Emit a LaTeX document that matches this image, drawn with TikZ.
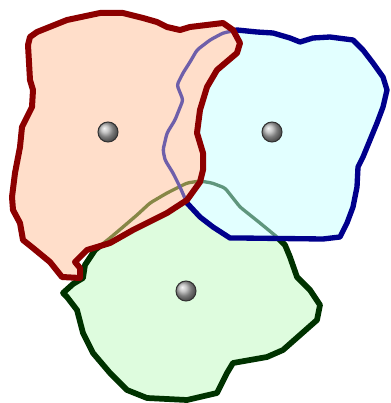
\documentclass[tikz,border=0pt]{standalone}
\begin{document}
\begin{tikzpicture}[x=0.75pt,y=-0.75pt,
  line join=round,
  redfill/.style={fill={rgb,255:red,255;green,222;blue,202}},
  bluefill/.style={fill={rgb,255:red,226;green,255;blue,255}},
  greenfill/.style={fill={rgb,255:red,222;green,252;blue,222}},
  redline/.style={draw={rgb,255:red,140;green,0;blue,0},line width=4.5pt},
  blueline/.style={draw={rgb,255:red,0;green,0;blue,140},line width=4pt},
  greenline/.style={draw={rgb,255:red,0;green,50;blue,0},line width=4.3pt},
  hidden/.style={line width=2.5pt,rounded corners=2},
  ball/.style={circle,minimum size=15pt,inner sep=0pt,ball color=gray!60!white,draw=black!80,line width=0.8pt}
]
\useasboundingbox (0,0) rectangle (390,403);
\def\redpath{(30,80) -- (28,45) -- (30,37) -- (37,32) -- (67,20) -- (100,13) -- (123,13) -- (143,18) -- (157,22) -- (167,27) -- (180,30) -- (190,27) -- (223,23) -- (233,30) -- (240,43) -- (237,53) -- (217,70) -- (207,87) -- (200,110) -- (197,133) -- (203,153) -- (203,170) -- (200,182) -- (187,200) -- (167,213) -- (133,230) -- (110,243) -- (97,247) -- (87,250) -- (75,262) -- (80,268) -- (80,278) -- (62,277) -- (50,262) -- (33,248) -- (23,240) -- (20,223) -- (13,210) -- (12,197) -- (15,173) -- (20,147) -- (22,127) -- (32,107) -- (33,90) -- cycle}
\def\bluepath{(237,30) -- (257,32) -- (273,33) -- (290,38) -- (300,42) -- (313,38) -- (330,37) -- (353,40) -- (363,50) -- (373,63) -- (383,77) -- (387,90) -- (383,107) -- (377,123) -- (370,140) -- (363,157) -- (358,167) -- (357,187) -- (353,207) -- (347,223) -- (340,237) -- (323,239) -- (240,238) -- (230,238) -- (213,227) -- (200,217) -- (187,203) -- (180,187) -- (173,173) -- (165,160) -- (163,150) -- (167,133) -- (175,120) -- (183,100) -- (177,85) -- (183,73) -- (190,62) -- (197,50) -- (210,40) -- (223,33) -- cycle}
\def\greenpath{(63,293) -- (73,284) -- (83,278) -- (85,265) -- (95,250) -- (110,238) -- (123,227) -- (137,215) -- (150,203) -- (167,193) -- (187,183) -- (200,181) -- (212,183) -- (225,188) -- (240,207) -- (260,223) -- (277,237) -- (285,245) -- (290,257) -- (297,277) -- (310,290) -- (320,305) -- (317,320) -- (283,350) -- (267,357) -- (233,363) -- (227,373) -- (217,393) -- (187,400) -- (147,398) -- (127,390) -- (110,373) -- (93,353) -- (83,333) -- (77,310) -- (67,297) -- cycle}
% green region
\path[greenfill] \greenpath;
\path[greenline] \greenpath;
% blue region
\path[bluefill] \bluepath;
\begin{scope}
  \clip \bluepath;
  \draw[hidden,draw={rgb,255:red,95;green,150;blue,125}] \greenpath;
\end{scope}
\path[blueline] \bluepath;
% red region
\path[redfill] \redpath;
\begin{scope}
  \clip \redpath;
  \draw[hidden,draw={rgb,255:red,135;green,135;blue,70}] \greenpath;
  \draw[hidden,draw={rgb,255:red,110;green,95;blue,170}] \bluepath;
\end{scope}
\path[redline] \redpath;
% centres
\node[ball] (r) at (108,132) {};
\node[ball] (b) at (272,132) {};
\node[ball] (g) at (186,291) {};
\end{tikzpicture}
\end{document}
